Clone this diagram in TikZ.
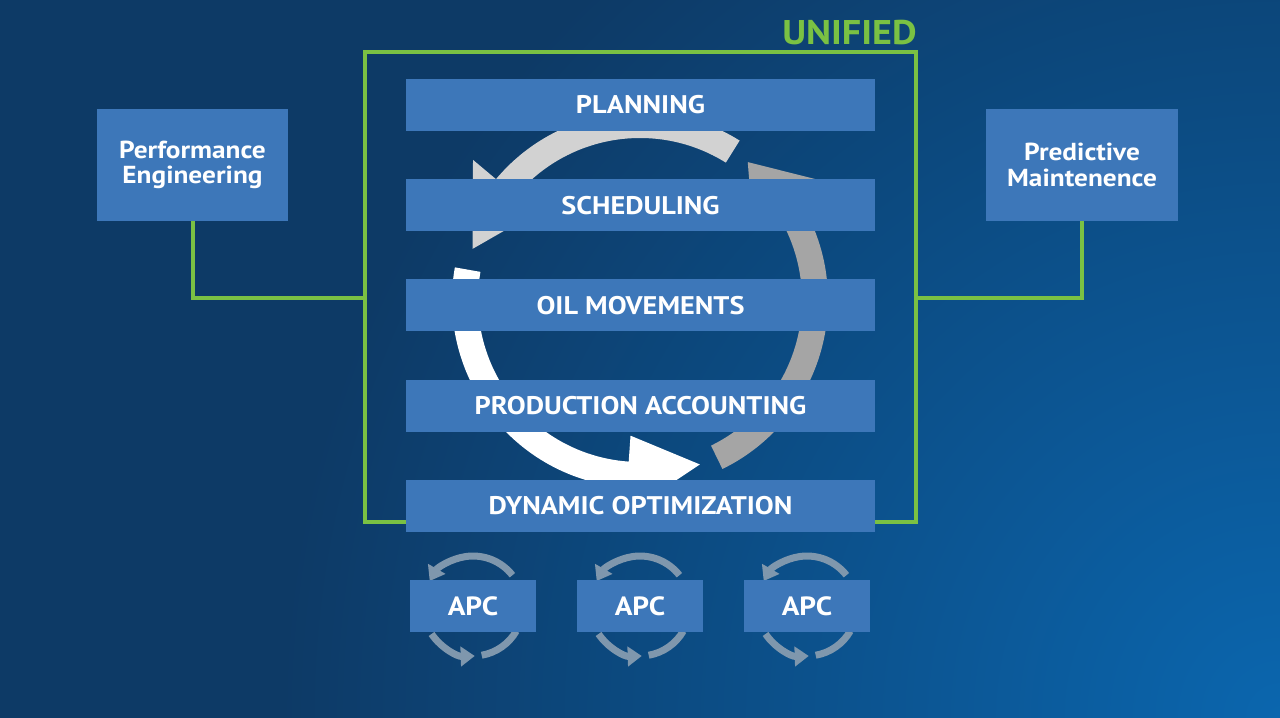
\documentclass[tikz,border=0pt]{standalone}
\usepackage{fontspec}
\setsansfont{PT Sans}[BoldFeatures={FakeStretch=1.11}]
\usetikzlibrary{positioning,arrows.meta}
\definecolor{bgdark}{HTML}{0D3A66}
\definecolor{bglight}{HTML}{0B66AE}
\definecolor{barblue}{HTML}{3D77B9}
\definecolor{unigreen}{HTML}{7AC143}
\definecolor{ringlight}{HTML}{D2D2D2}
\definecolor{ringgray}{HTML}{A5A5A5}
\definecolor{apcgray}{HTML}{7F97AD}
\tikzstyle{bar} = [rectangle, minimum width=9.38cm, minimum height=1.04cm, text centered, fill=barblue, text=white, font=\sffamily\bfseries\fontsize{14.5}{16}\selectfont]
\tikzstyle{side} = [rectangle, minimum width=3.74cm, minimum height=2.24cm, text centered, text width=3.6cm, fill=barblue, text=white, font=\sffamily\bfseries\fontsize{14}{14.5}\selectfont]
\tikzstyle{apc} = [rectangle, minimum width=2.52cm, minimum height=1.04cm, text centered, fill=barblue, text=white, font=\sffamily\bfseries\fontsize{15}{16}\selectfont]
\tikzstyle{frame} = [rectangle, draw=unigreen, line width=0.08cm, minimum width=11.02cm, minimum height=9.4cm, inner sep=0pt]
\tikzstyle{link} = [unigreen, line width=0.08cm]
\tikzstyle{cyc} = [apcgray, line width=0.14cm, -{Triangle[width=11pt,length=8pt]}]
\tikzstyle{cycplain} = [apcgray, line width=0.14cm]

\begin{document}
\begin{tikzpicture}[x=0.02cm, y=0.02cm, node distance=2.005cm]

	% background
	\useasboundingbox (0,0) rectangle (1280,-717);
	\begin{scope}
		\clip (-10,10) rectangle (1290,-727);
		\fill[bgdark] (-10,10) rectangle (1290,-727);
		\shade[inner color=bglight, outer color=bgdark] (1280,-717) circle (1000);
	\end{scope}

	\node (unified) [frame] at (640.5,-287) {};
	\node [anchor=south east, inner sep=0pt, text=unigreen, font=\sffamily\bfseries\fontsize{19.5}{20}\selectfont] at ([xshift=-0.02cm, yshift=0.1cm]unified.north east) {UNIFIED};

	% cycle
	\begin{scope}[shift={(640,-300)}]
		\fill[white] (170:188) arc[start angle=170, end angle=266, radius=188] -- (266:215) -- (290:175) -- (266:136) -- (266:162) arc[start angle=266, end angle=170, radius=162] -- cycle;
		\fill[ringgray] (296:188) arc[start angle=296, end angle=394, radius=188] -- (394:215) -- (412:175) -- (394:136) -- (394:162) arc[start angle=394, end angle=296, radius=162] -- cycle;
		\fill[ringlight] (58:188) arc[start angle=58, end angle=140, radius=188] -- (140:218) -- (163:175) -- (140:136) -- (140:162) arc[start angle=140, end angle=58, radius=162] -- cycle;
	\end{scope}

	\node (plan) [bar] at (640.5,-105) {PLANNING};
	\node (sched) [bar, below of=plan] {SCHEDULING};
	\node (oilmov) [bar, below of=sched] {OIL MOVEMENTS};
	\node (prodacc) [bar, below of=oilmov] {PRODUCTION ACCOUNTING};
	\node (dynopt) [bar, below of=prodacc] {DYNAMIC OPTIMIZATION};

	\node (perf) [side] at (192.5,-165) {Performance\\Engineering};
	\node (maint) [side] at (1082,-165) {Predictive\\Maintenence};

	\coordinate (linky) at (0,-298);
	\draw [link] (perf.south) |- (unified.west |- linky);
	\draw [link] (maint.south) |- (unified.east |- linky);

	% APC loops
	\coordinate (apc1c) at (473,-606);
	\coordinate (apc2c) at (640,-606);
	\coordinate (apc3c) at (807,-606);
	\draw [cyc] ([shift={(38:50)}]apc1c) arc[start angle=38, end angle=150, radius=50];
	\draw [cyc] ([shift={(214:50)}]apc1c) arc[start angle=214, end angle=272, radius=50];
	\draw [cycplain] ([shift={(280:50)}]apc1c) arc[start angle=280, end angle=330, radius=50];
	\draw [cyc] ([shift={(38:50)}]apc2c) arc[start angle=38, end angle=150, radius=50];
	\draw [cyc] ([shift={(214:50)}]apc2c) arc[start angle=214, end angle=272, radius=50];
	\draw [cycplain] ([shift={(280:50)}]apc2c) arc[start angle=280, end angle=330, radius=50];
	\draw [cyc] ([shift={(38:50)}]apc3c) arc[start angle=38, end angle=150, radius=50];
	\draw [cyc] ([shift={(214:50)}]apc3c) arc[start angle=214, end angle=272, radius=50];
	\draw [cycplain] ([shift={(280:50)}]apc3c) arc[start angle=280, end angle=330, radius=50];

	\node (apc1) [apc] at (apc1c) {APC};
	\node (apc2) [apc] at (apc2c) {APC};
	\node (apc3) [apc] at (apc3c) {APC};

\end{tikzpicture}
\end{document}
